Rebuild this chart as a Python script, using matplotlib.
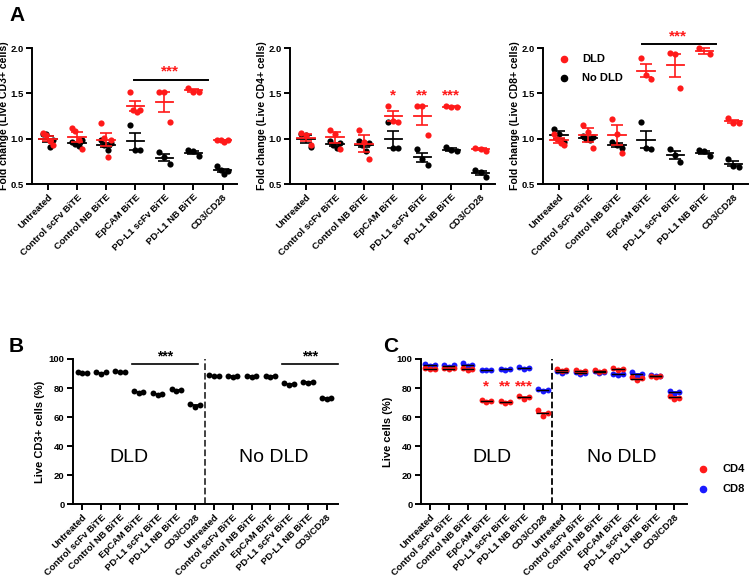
import numpy as np
import matplotlib
matplotlib.use("Agg")
import matplotlib.pyplot as plt

plt.rcParams['font.family'] = ['Liberation Sans', 'DejaVu Sans']
plt.rcParams['font.weight'] = 'bold'

groups = ["Untreated", "Control scFv BiTE", "Control NB BiTE", "EpCAM BiTE",
          "PD-L1 scFv BiTE", "PD-L1 NB BiTE", "CD3/CD28"]

# panel A: fold change, DLD (red) and No DLD (black)
cd3_dld = [[1.06, 1.04, 0.97, 0.93], [1.12, 1.08, 0.99, 0.89], [1.17, 1.01, 0.80, 0.98],
           [1.51, 1.32, 1.29, 1.32], [1.51, 1.51, 1.18], [1.56, 1.52, 1.52], [0.99, 0.99, 0.96, 0.98]]
cd3_nodld = [[1.05, 1.05, 0.91, 0.99], [0.96, 0.94, 0.92, 0.98], [0.98, 0.93, 0.87, 0.95],
             [1.15, 0.88, 0.88], [0.85, 0.80, 0.72], [0.87, 0.86, 0.81], [0.70, 0.65, 0.61, 0.64]]
cd4_dld = [[1.06, 1.04, 0.93], [1.10, 1.05, 0.89], [1.10, 0.96, 0.78],
           [1.36, 1.20, 1.18], [1.36, 1.36, 1.04], [1.36, 1.35, 1.35], [0.90, 0.89, 0.86]]
cd4_nodld = [[1.05, 1.04, 0.91], [0.97, 0.93, 0.90, 0.95], [0.97, 0.93, 0.86, 0.95],
             [1.18, 0.90, 0.90], [0.89, 0.78, 0.71], [0.91, 0.87, 0.86], [0.66, 0.63, 0.58]]
cd8_dld = [[1.05, 1.00, 0.95, 0.93], [1.15, 1.07, 0.90], [1.22, 1.05, 0.84],
           [1.89, 1.70, 1.66], [1.94, 1.93, 1.56], [2.00, 1.93], [1.23, 1.17, 1.17]]
cd8_nodld = [[1.11, 1.05, 0.96], [1.03, 1.00, 0.98, 1.02], [0.96, 0.93, 0.90],
             [1.18, 0.90, 0.89], [0.89, 0.82, 0.74], [0.87, 0.86, 0.81], [0.78, 0.70, 0.69]]

# panel B: live CD3+ (%), DLD then No DLD
live_cd3 = [[90.8, 90.2, 90.6], [91.0, 90.0, 90.8], [91.4, 90.8, 91.2], [77.8, 76.4, 77.2],
            [76.6, 75.4, 76.0], [79.2, 78.0, 78.8], [69.0, 67.0, 68.2],
            [88.8, 88.2, 88.6], [88.4, 87.6, 88.2], [88.6, 87.8, 88.4], [88.2, 87.8, 88.2],
            [83.4, 81.8, 82.8], [84.2, 83.4, 83.8], [73.4, 72.4, 73.0]]

# panel C: live CD4 / CD8 (%)
live_cd4 = [[94.0, 92.8, 93.4], [93.8, 92.8, 93.6], [93.6, 92.4, 93.2], [71.8, 70.2, 71.2],
            [70.8, 69.4, 70.4], [74.2, 72.6, 73.6], [65.0, 61.0, 63.0],
            [93.0, 91.8, 92.6], [92.4, 91.0, 91.8], [92.4, 91.0, 91.8], [93.6, 92.6, 93.4],
            [87.4, 85.4, 86.6], [88.6, 87.6, 88.2], [74.6, 72.4, 73.4]]
live_cd8 = [[96.4, 95.0, 95.8], [96.0, 94.8, 95.6], [97.0, 95.0, 96.0], [92.6, 92.4, 92.6],
            [93.2, 92.4, 92.8], [94.2, 93.4, 93.8], [79.4, 78.0, 78.8],
            [91.8, 90.6, 91.4], [91.0, 89.8, 90.6], [91.4, 90.4, 91.0], [90.0, 89.2, 89.6],
            [91.2, 88.4, 89.6], [89.0, 88.2, 88.6], [78.0, 76.0, 77.0]]

RED = "#ff1a1a"
BLUE = "#1a1aff"


def style_axes(ax):
    for s in ["top", "right"]:
        ax.spines[s].set_visible(False)
    for s in ["left", "bottom"]:
        ax.spines[s].set_linewidth(1.4)
    ax.tick_params(width=1.4, length=4, labelsize=6.8, pad=2)


def scatter_groups(ax, data, color, spread=0.18, size=20, err=True, zorder=3):
    for i, vals in enumerate(data):
        vals = np.array(vals)
        n = len(vals)
        xs = i + np.linspace(-spread, spread, n) if n > 1 else np.array([i])
        ax.scatter(xs, vals, s=size, color=color, zorder=zorder, clip_on=False, linewidths=0)
        m = vals.mean()
        ax.plot([i - 0.3, i + 0.3], [m, m], color=color, lw=1.3, zorder=zorder + 1, clip_on=False)
        if err:
            sem = vals.std(ddof=1) / np.sqrt(n)
            ax.errorbar(i, m, yerr=sem, color=color, capsize=4, lw=1.2, capthick=1.2,
                        zorder=zorder + 1, clip_on=False)


fig = plt.figure(figsize=(7.54, 5.81), dpi=100)

panelA = [(cd3_dld, cd3_nodld, "Fold change (Live CD3+ cells)", 0.0424),
          (cd4_dld, cd4_nodld, "Fold change (Live CD4+ cells)", 0.3846),
          (cd8_dld, cd8_nodld, "Fold change (Live CD8+ cells)", 0.7200)]
axesA = []
for red, black, ylab, left in panelA:
    ax = fig.add_axes([left, 0.6833, 0.272, 0.234])
    scatter_groups(ax, black, "black")
    scatter_groups(ax, red, RED, zorder=5)
    ax.set_xlim(-0.55, 6.5)
    ax.set_ylim(0.5, 2.0)
    ax.set_yticks([0.5, 1.0, 1.5, 2.0])
    ax.set_xticks(range(len(groups)))
    ax.set_xticklabels(groups, rotation=45, ha="right", rotation_mode="anchor")
    ax.set_ylabel(ylab, fontsize=7.6, fontweight="bold", labelpad=1)
    style_axes(ax)
    axesA.append(ax)

# significance marks, panel A
axesA[0].plot([2.95, 5.5], [1.65, 1.65], color="black", lw=1.4)
axesA[0].text(4.2, 1.66, "***", color=RED, ha="center", va="bottom", fontsize=11)
for i, st in zip([3, 4, 5], ["*", "**", "***"]):
    axesA[1].text(i, 1.40, st, color=RED, ha="center", va="bottom", fontsize=11)
axesA[2].plot([2.85, 5.4], [2.04, 2.04], color="black", lw=1.4, clip_on=False)
axesA[2].text(4.1, 2.05, "***", color=RED, ha="center", va="bottom", fontsize=11)
axesA[2].scatter([], [], s=20, color=RED, label="DLD")
axesA[2].scatter([], [], s=20, color="black", label="No DLD")
axesA[2].legend(loc="upper left", bbox_to_anchor=(0.0, 1.03), frameon=False,
                fontsize=8, handletextpad=0.6, labelspacing=0.8)

labels14 = groups + groups

# panel B
axB = fig.add_axes([0.0968, 0.1325, 0.3515, 0.2496])
scatter_groups(axB, live_cd3, "black", spread=0.25, size=18, err=False)
axB.set_xlim(-0.5, 13.6)
axB.set_ylim(0, 100)
axB.set_yticks(range(0, 101, 20))
axB.set_xticks(range(14))
axB.set_xticklabels(labels14, rotation=45, ha="right", rotation_mode="anchor")
axB.set_ylabel("Live CD3+ cells (%)", fontsize=8, fontweight="bold", labelpad=3)
axB.axvline(6.5, color="#333333", ls="--", lw=1.3)
axB.plot([2.66, 6.17], [96.5, 96.5], color="black", lw=1.2, clip_on=False)
axB.plot([10.6, 13.6], [96.5, 96.5], color="black", lw=1.2, clip_on=False)
axB.text(4.4, 97, "***", ha="center", va="bottom", fontsize=10)
axB.text(12.1, 97, "***", ha="center", va="bottom", fontsize=10)
axB.text(2.5, 32, "DLD", ha="center", va="center", fontsize=14, fontweight="normal")
axB.text(10.2, 32, "No DLD", ha="center", va="center", fontsize=14, fontweight="normal")
style_axes(axB)

# panel C
axC = fig.add_axes([0.5584, 0.1325, 0.3528, 0.2496])
scatter_groups(axC, live_cd8, BLUE, spread=0.25, size=18, err=False)
scatter_groups(axC, live_cd4, RED, spread=0.25, size=18, err=False, zorder=5)
for i, vals in enumerate(live_cd8):
    m = np.mean(vals)
    axC.plot([i - 0.3, i + 0.3], [m, m], color="black", lw=1.0, zorder=7)
for i, vals in enumerate(live_cd4):
    m = np.mean(vals)
    axC.plot([i - 0.3, i + 0.3], [m, m], color="black", lw=1.0, zorder=7)
axC.set_xlim(-0.48, 13.67)
axC.set_ylim(0, 100)
axC.set_yticks(range(0, 101, 20))
axC.set_xticks(range(14))
axC.set_xticklabels(labels14, rotation=45, ha="right", rotation_mode="anchor")
axC.set_ylabel("Live cells (%)", fontsize=8, fontweight="bold", labelpad=3)
axC.axvline(6.5, color="black", ls="--", lw=1.3)
for i, st in zip([3, 4, 5], ["*", "**", "***"]):
    axC.text(i, 76, st, color=RED, ha="center", va="bottom", fontsize=11)
axC.text(3.3, 32, "DLD", ha="center", va="center", fontsize=14, fontweight="normal")
axC.text(10.2, 32, "No DLD", ha="center", va="center", fontsize=14, fontweight="normal")
axC.scatter([], [], s=20, color=RED, label="CD4")
axC.scatter([], [], s=20, color=BLUE, label="CD8")
axC.legend(loc="lower left", bbox_to_anchor=(0.98, 0.0), frameon=False,
           fontsize=8, handletextpad=0.8, labelspacing=0.9)
style_axes(axC)

fig.text(0.012, 0.99, "A", fontsize=15, fontweight="bold", va="top")
fig.text(0.012, 0.42, "B", fontsize=15, fontweight="bold", va="top")
fig.text(0.508, 0.42, "C", fontsize=15, fontweight="bold", va="top")

fig.savefig("out.png", dpi=100)
